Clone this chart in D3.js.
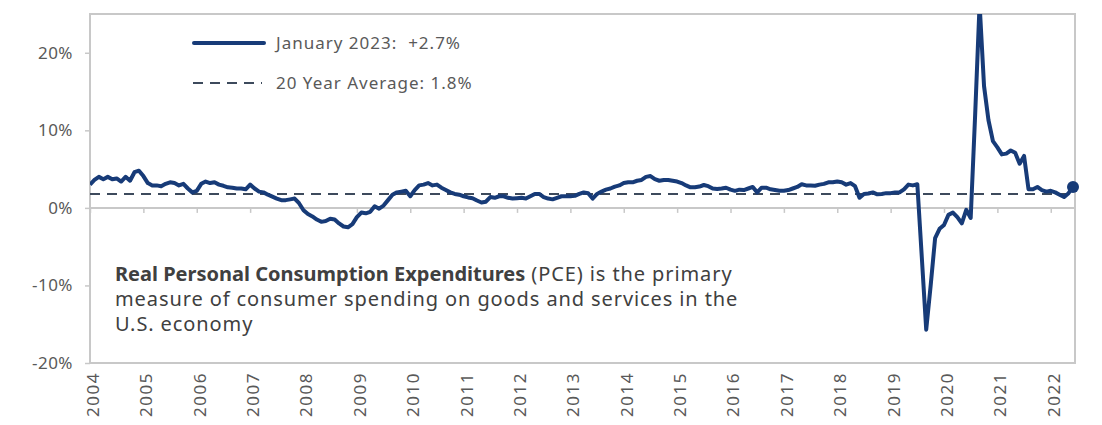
<!DOCTYPE html>
<html>
<head>
<meta charset="utf-8">
<script src="https://cdn.jsdelivr.net/npm/d3@7"></script>
<style>
  body { margin: 0; background: #fff; }
  text { font-family: "Noto Sans", sans-serif; }
</style>
</head>
<body>
<div id="viz"></div>
<script>
const navy = "#173b78";
const dashColor = "#3d4a5c";
const gridGray = "#c8c8c8";
const labelGray = "#595959";

// real PCE, % change y/y, monthly Aug 2004 .. Jan 2023
const pce = [
  3.0, 3.6, 4.0, 3.7, 4.0, 3.7, 3.8, 3.4, 4.0, 3.5, 4.6, 4.8,
  4.1, 3.2, 2.9, 2.9, 2.8, 3.1, 3.3, 3.2, 2.9, 3.1, 2.5, 2.0,
  2.2, 3.1, 3.4, 3.2, 3.3, 3.0, 2.85, 2.65, 2.6, 2.5, 2.5, 2.4,
  3.0, 2.5, 2.1, 2.0, 1.7, 1.45, 1.2, 1.0, 1.0, 1.1, 1.2, 0.6,
  -0.3, -0.8, -1.1, -1.5, -1.8, -1.7, -1.4, -1.5, -2.0, -2.4, -2.5, -2.1,
  -1.2, -0.6, -0.7, -0.5, 0.2, -0.1, 0.3, 1.0, 1.7, 2.0, 2.1, 2.2,
  1.5, 2.3, 2.9, 3.0, 3.2, 2.9, 3.0, 2.6, 2.3, 2.0, 1.8, 1.7,
  1.5, 1.35, 1.25, 0.95, 0.7, 0.8, 1.4, 1.3, 1.5, 1.5, 1.3, 1.2,
  1.25, 1.3, 1.2, 1.5, 1.8, 1.8, 1.4, 1.2, 1.1, 1.3, 1.5, 1.5,
  1.5, 1.55, 1.8, 2.0, 1.9, 1.2, 1.8, 2.1, 2.35, 2.5, 2.75, 2.9,
  3.2, 3.3, 3.3, 3.5, 3.6, 4.0, 4.1, 3.7, 3.5, 3.6, 3.6, 3.5,
  3.4, 3.2, 2.9, 2.65, 2.65, 2.75, 2.95, 2.8, 2.5, 2.45, 2.5, 2.6,
  2.35, 2.2, 2.35, 2.3, 2.5, 2.7, 2.0, 2.6, 2.6, 2.4, 2.3, 2.2,
  2.2, 2.3, 2.5, 2.7, 3.05, 2.9, 2.9, 2.85, 3.0, 3.1, 3.3, 3.3,
  3.4, 3.3, 3.0, 3.2, 2.8, 1.3, 1.8, 1.85, 2.0, 1.75, 1.8, 1.9,
  1.9, 2.0, 2.0, 2.4, 3.0, 2.9, 3.05, -6.3, -15.7, -10.0, -3.9, -2.7,
  -2.2, -0.9, -0.6, -1.2, -2.0, -0.25, -1.3, 12.0, 26.3, 15.7, 11.3, 8.6,
  7.8, 6.9, 7.0, 7.4, 7.1, 5.7, 6.7, 2.4, 2.4, 2.7, 2.3, 2.1,
  2.2, 2.0, 1.7, 1.4, 1.9, 2.7
];
const avg20 = 1.8;
const years = ["2004", "2005", "2006", "2007", "2008", "2009", "2010", "2011", "2012", "2013",
  "2014", "2015", "2016", "2017", "2018", "2019", "2020", "2021", "2022"];
const yTicks = [-20, -10, 0, 10, 20];
const legendLabels = ["January 2023:  +2.7%", "20 Year Average: 1.8%"];
const noteBold = "Real Personal Consumption Expenditures";
const noteLines = [" (PCE) is the primary", "measure of consumer spending on goods and services in the", "U.S. economy"];

const w = 1102, h = 425;
const svg = d3.select("#viz")
  .append("svg")
  .attr("width", w)
  .attr("height", h);

const pLeft = 90, pRight = 1075, pTop = 14, pBottom = 363;

const x = d3.scaleLinear()
  .domain([0, pce.length - 1])
  .range([pLeft, 1073]);
const y = d3.scaleLinear()
  .domain([-20, 25])
  .range([pBottom, pTop]);

svg.append("clipPath").attr("id", "plot")
  .append("rect")
  .attr("x", pLeft).attr("y", pTop)
  .attr("width", pRight - pLeft).attr("height", pBottom - pTop);

// frame
svg.append("rect")
  .attr("x", pLeft).attr("y", pTop)
  .attr("width", pRight - pLeft).attr("height", pBottom - pTop)
  .attr("fill", "none")
  .attr("stroke", gridGray)
  .attr("stroke-width", 2);

// y axis
const yAxis = svg.append("g")
  .attr("transform", `translate(${pLeft},0)`)
  .call(d3.axisLeft(y).tickValues(yTicks).tickFormat(d => d + "%").tickSize(5).tickPadding(12));
yAxis.select(".domain").remove();
yAxis.selectAll("line").attr("stroke", gridGray).attr("stroke-width", 1.5);
yAxis.selectAll("text")
  .attr("fill", labelGray)
  .style("font-size", "17px")
  .style("letter-spacing", "0.5px");

// zero axis with ticks every 12 months
const tickIdx = years.map((d, k) => k * 12);
const xAxis = svg.append("g")
  .attr("transform", `translate(0,${y(0)})`)
  .call(d3.axisBottom(x).tickValues(tickIdx).tickFormat("").tickSize(5).tickSizeOuter(0));
xAxis.select(".domain").attr("stroke", gridGray).attr("stroke-width", 2)
  .attr("d", `M${pLeft},0H${pRight}`);
xAxis.selectAll("line").attr("stroke", gridGray).attr("stroke-width", 1.5);

// year labels at the bottom, rotated
svg.append("g")
  .selectAll("text")
  .data(years)
  .enter()
  .append("text")
  .attr("transform", (d, k) => `translate(${x(tickIdx[k]) + 3},372) rotate(-90)`)
  .attr("text-anchor", "end")
  .attr("dy", "0.35em")
  .attr("fill", labelGray)
  .style("font-size", "17px")
  .style("letter-spacing", "1.5px")
  .text(d => d);

// 20y average
svg.append("line")
  .attr("x1", x(0)).attr("x2", x(pce.length - 1))
  .attr("y1", y(avg20)).attr("y2", y(avg20))
  .attr("stroke", dashColor)
  .attr("stroke-width", 2)
  .attr("stroke-dasharray", "10,7");

// pce line
const line = d3.line()
  .x((d, i) => x(i))
  .y(d => y(d));
svg.append("path")
  .datum(pce)
  .attr("clip-path", "url(#plot)")
  .attr("d", line)
  .attr("fill", "none")
  .attr("stroke", navy)
  .attr("stroke-width", 4)
  .attr("stroke-linejoin", "round");

svg.append("circle")
  .attr("cx", x(pce.length - 1))
  .attr("cy", y(pce[pce.length - 1]))
  .attr("r", 6)
  .attr("fill", navy);

// legend
const lg = svg.append("g");
lg.append("line")
  .attr("x1", 194).attr("x2", 264).attr("y1", 43).attr("y2", 43)
  .attr("stroke", navy).attr("stroke-width", 4).attr("stroke-linecap", "round");
lg.append("line")
  .attr("x1", 193).attr("x2", 262).attr("y1", 83).attr("y2", 83)
  .attr("stroke", dashColor).attr("stroke-width", 2).attr("stroke-dasharray", "10,7");
lg.selectAll("text")
  .data(legendLabels)
  .enter()
  .append("text")
  .attr("x", 276)
  .attr("y", (d, i) => 43 + i * 40)
  .attr("dy", "0.35em")
  .attr("fill", labelGray)
  .style("font-size", "17px")
  .style("letter-spacing", "1px")
  .style("white-space", "pre")
  .text(d => d);

// note
const note = svg.append("text")
  .attr("x", 115)
  .attr("y", 281)
  .attr("fill", "#404040")
  .style("font-size", "20px");
note.append("tspan").style("font-weight", "bold").text(noteBold);
note.append("tspan").style("letter-spacing", "0.9px").text(noteLines[0]);
note.append("tspan").attr("x", 115).attr("dy", 25).style("letter-spacing", "0.9px").text(noteLines[1]);
note.append("tspan").attr("x", 115).attr("dy", 25).style("letter-spacing", "0.9px").text(noteLines[2]);
</script>
</body>
</html>
